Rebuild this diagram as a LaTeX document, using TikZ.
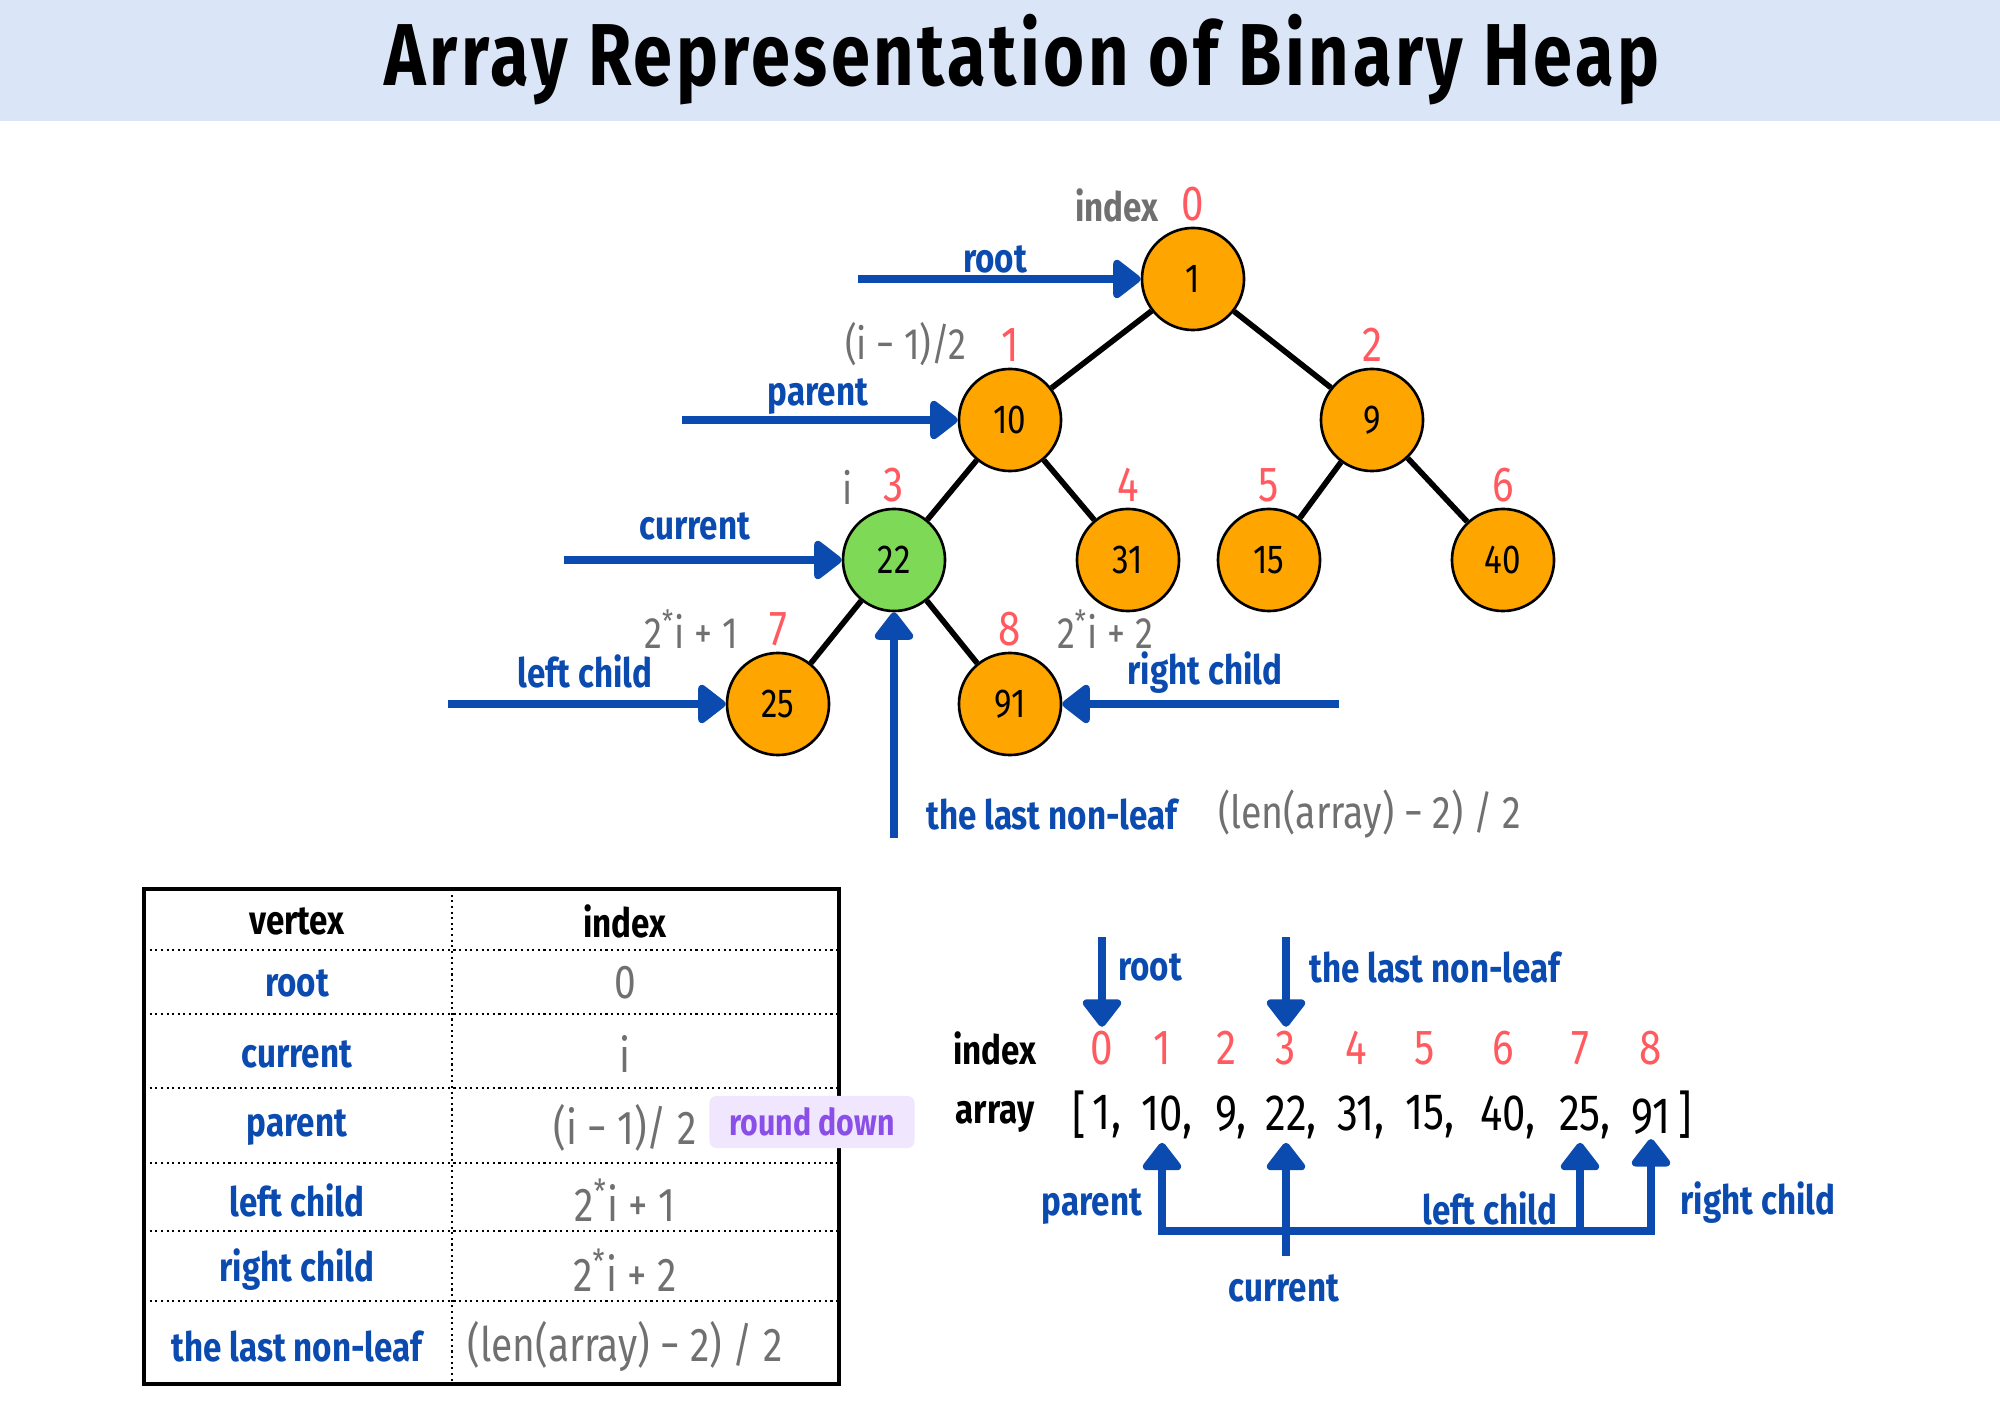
\documentclass[tikz,border=0pt]{standalone}
\usepackage{fontspec}
\setmainfont[FakeStretch=0.82]{Fira Sans}
\newfontfamily\titlefont[FakeStretch=0.8,LetterSpace=4]{Fira Sans}
\usetikzlibrary{arrows.meta}

\definecolor{hblue}{HTML}{0B4BAF}
\definecolor{hred}{HTML}{FF5A5F}
\definecolor{hgray}{HTML}{707070}
\definecolor{horange}{HTML}{FFA500}
\definecolor{hgreen}{HTML}{7ED957}
\definecolor{hband}{HTML}{DAE6F7}
\definecolor{hlav}{HTML}{F0E6FE}
\definecolor{hpurple}{HTML}{8A4FE8}

\newcommand{\fsz}[1]{\fontsize{#1}{#1}\selectfont}

\begin{document}
\begin{tikzpicture}[
x=0.01cm, y=-0.01cm, % pixel grid, y downwards
vtx/.style={circle, draw=black, line width=0.75pt, fill=#1, minimum size=1.02cm, inner sep=0pt, font=\fsz{11.5}},
edge/.style={line width=1.6pt},
ptr/.style={draw=hblue, line width=2.3pt, -{Triangle[length=0.3cm,width=0.44cm,round]}},
bar/.style={draw=hblue, line width=2.3pt},
lbl/.style={text=hblue, font=\bfseries\fsz{11.5}, inner sep=1pt},
idx/.style={text=hred, font=\fsz{14}, inner sep=1pt},
frm/.style={text=hgray, font=\fsz{12.5}, inner sep=1pt},
val/.style={font=\fsz{14.5}, inner sep=1pt},
dots/.style={line width=0.6pt, dash pattern=on 0.6pt off 1pt}
]
\useasboundingbox (0,0) rectangle (2000,1428);

% --- Title band ---
\fill[hband] (0,0) rectangle (2000,121);
\node[font=\titlefont\bfseries\fsz{25}] (title) at (1022,60) {Array Representation of Binary Heap};

% --- Tree ---
\foreach \k/\x/\y/\v/\c in {0/1193/279/1/horange, 1/1010/420/10/horange, 2/1372/420/9/horange,
  3/894/560/22/hgreen, 4/1128/560/31/horange, 5/1269/560/15/horange, 6/1503/560/40/horange,
  7/778/704/25/horange, 8/1010/704/91/horange}{
  \node[vtx=\c] (h\k) at (\x,\y) {\v};
  \node[idx] (r\k) at (\x,\y-75) {\k};
}
\foreach \a/\b in {0/1, 0/2, 1/3, 1/4, 2/5, 2/6, 3/7, 3/8}
  \draw[edge] (h\a) -- (h\b);

% formulas beside the indices
\node[frm, font=\bfseries\fsz{11.5}] (fIdx) at (1117,205) {index};
\node[frm] (fPar) at (906,344) {(i − 1)/2};
\node[frm] (fCur) at (848,487) {i};
\node[frm] (fLeft) at (691,629) {2\textsuperscript{*}i + 1};
\node[frm] (fRight) at (1105,629) {2\textsuperscript{*}i + 2};

% pointers into the tree
\coordinate (pRoot) at (858,279);
\coordinate (pPar) at (682,420);
\coordinate (pCur) at (564,560);
\coordinate (pLeft) at (448,704);
\coordinate (pRight) at (1339,704);
\coordinate (pLast) at (894,838);
\draw[ptr] (pRoot) -- (h0);
\draw[ptr] (pPar) -- (h1);
\draw[ptr] (pCur) -- (h3);
\draw[ptr] (pLeft) -- (h7);
\draw[ptr] (pRight) -- (h8);
\draw[ptr] (pLast) -- (h3);
\node[lbl] (lRoot) at (995,259) {root};
\node[lbl] (lPar) at (818,397) {parent};
\node[lbl] (lCur) at (695,526) {current};
\node[lbl] (lLeft) at (585,671) {left child};
\node[lbl] (lRight) at (1205,673) {right child};
\node[lbl, anchor=west] (lLast) at (922,814) {the last non-leaf};
\node[frm, anchor=west, font=\fsz{13}] (fLast) at (1214,814) {(len(array) − 2) / 2};

% --- Table ---
\draw[line width=1.4pt] (144,889) rectangle (839,1384);
\draw[dots] (452,889) -- (452,1384);
\foreach \y in {950,1014,1088,1163,1231,1301}
  \draw[dots] (144,\y) -- (839,\y);
\node[font=\bfseries\fsz{11.5}] (tVtx) at (297,921) {vertex};
\node[font=\bfseries\fsz{11.5}] (tIdx) at (625,921) {index};
\foreach \y/\a/\b [count=\k] in {983/root/0, 1054/current/i, 1128/parent/{(i − 1)/ 2},
  1200/left child/{2\textsuperscript{*}i + 1}, 1270/right child/{2\textsuperscript{*}i + 2},
  1346/the last non-leaf/{(len(array) − 2) / 2}}{
  \node[lbl] (tv\k) at (297,\y) {\a};
  \node[frm, font=\fsz{13.5}] (ti\k) at (625,\y) {\b};
}
\node[fill=hlav, text=hpurple, font=\bfseries\fsz{10.5}, minimum width=2.05cm, minimum height=0.46cm,
  rounded corners=2pt] (rDown) at (812,1122) {round down};

% --- Array ---
\node[font=\bfseries\fsz{11.5}] (aIdx) at (995,1048) {index};
\node[font=\bfseries\fsz{11.5}] (aArr) at (995,1117) {array};
\foreach \k/\x/\v in {0/1102/{1\rlap{,}}, 1/1162/{10\rlap{,}}, 2/1226/{9\rlap{,}}, 3/1286/{22\rlap{,}},
  4/1356/{31\rlap{,}}, 5/1425/{15\rlap{,}}, 6/1503/{40\rlap{,}}, 7/1580/{25\rlap{,}}, 8/1651/{91}}{
  \node[idx] (i\k) at (\x,1048) {\k};
  \node[val] (v\k) at (\x,1117) {\v};
}
\node[val] (lBr) at (1079,1115) {[};
\node[val] (rBr) at (1685,1115) {]};

\coordinate (dRoot) at (1102,937);
\coordinate (dLast) at (1286,937);
\draw[ptr] (dRoot) -- (i0);
\draw[ptr] (dLast) -- (i3);
\node[lbl, anchor=west] (aRoot) at (1114,967) {root};
\node[lbl, anchor=west] (aLast) at (1305,967) {the last non-leaf};

\coordinate (bot) at (0,1231);
\draw[bar, line cap=rect] (v1 |- bot) -- (v8 |- bot);
\foreach \k in {1,3,7,8}
  \draw[ptr] (v\k |- bot) -- (v\k);
\draw[bar] (v3 |- bot) -- ++(0,25) coordinate (cEnd);
\node[lbl] (aPar) at (1092,1207) {parent};
\node[lbl] (aLeft) at (1490,1208) {left child};
\node[lbl] (aRight) at (1758,1203) {right child};
\node[lbl] (aCur) at (1284,1288) {current};

\end{tikzpicture}
\end{document}
